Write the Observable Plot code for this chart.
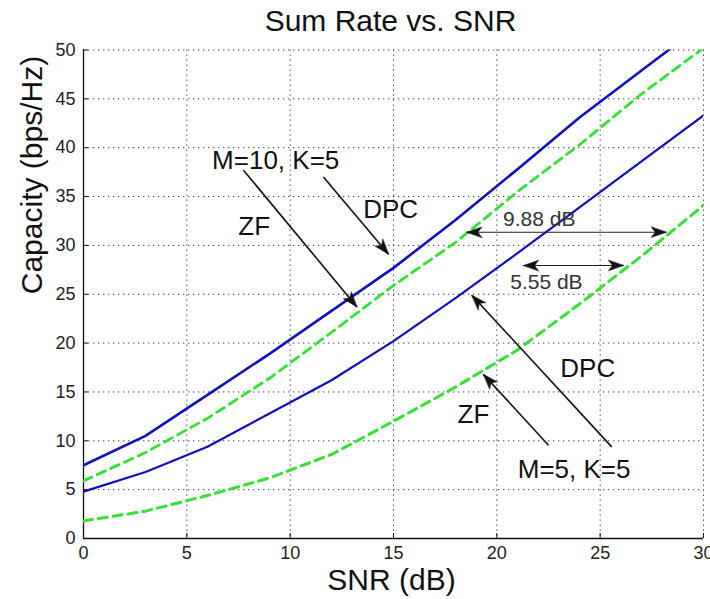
<!DOCTYPE html>
<html><head><meta charset="utf-8">
<script src="https://cdn.jsdelivr.net/npm/d3@7"></script>
<script src="https://cdn.jsdelivr.net/npm/@observablehq/plot@0.6"></script>
<style>
body{margin:0;background:#fff;}
#chart svg{display:block;background:#fff;font-family:"Liberation Sans",Arial,sans-serif;}
</style></head><body><div id="chart"></div>
<script>
// ---- data ----
const snr    = [0, 3, 6, 9, 12, 15, 18, 21, 24, 27, 30];
const dpcM10 = [7.5, 10.5, 14.7, 18.9, 23.3, 27.7, 32.6, 37.8, 43.1, 47.9, 52.7];
const zfM10  = [5.9, 8.8, 12.3, 16.4, 21.1, 25.9, 30.3, 35.5, 40.3, 45.5, 50.2];
const dpcM5  = [4.8, 6.8, 9.4, 12.8, 16.2, 20.2, 24.6, 29.2, 33.9, 38.6, 43.3];
const zfM5   = [1.8, 2.8, 4.4, 6.2, 8.6, 12.0, 15.5, 19.3, 24.0, 28.9, 34.1];
const xTicks = [0, 5, 10, 15, 20, 25, 30];
const yTicks = [0, 5, 10, 15, 20, 25, 30, 35, 40, 45, 50];
const titleText = "Sum Rate vs. SNR";
const xLabel = "SNR (dB)";
const yLabel = "Capacity (bps/Hz)";
// annotation labels (data coordinates)
const labelText = ["M=10, K=5", "ZF", "DPC", "DPC", "ZF", "M=5, K=5"];
const labelX    = [9.3, 8.26, 14.86, 24.4, 18.87, 23.74];
const labelY    = [38.7, 31.9, 33.7, 17.4, 12.66, 7.07];
const dbText = ["9.88 dB", "5.55 dB"];
const dbX    = [22.05, 22.4];
const dbY    = [32.65, 26.2];
// single-headed pointer arrows: start -> tip
const arrowX1 = [7.74, 11.61, 25.56, 22.5];
const arrowY1 = [37.7, 37.0, 9.38, 9.55];
const arrowX2 = [13.23, 14.76, 18.79, 19.35];
const arrowY2 = [23.7, 29.1, 24.9, 16.8];
// double-headed gap arrows
const gapX1 = [18.55, 21.29];
const gapX2 = [28.2, 26.13];
const gapY  = [31.35, 27.94];

// ---- tables ----
const mk = (vals, series) => snr.map((s, i) => ({snr: s, cap: vals[i], series}));
const rowsDpc10 = mk(dpcM10, "DPC M=10"), rowsZf10 = mk(zfM10, "ZF M=10");
const rowsDpc5 = mk(dpcM5, "DPC M=5"), rowsZf5 = mk(zfM5, "ZF M=5");
const labels = labelText.map((t, i) => ({t, x: labelX[i], y: labelY[i]}));
const dbLabels = dbText.map((t, i) => ({t, x: dbX[i], y: dbY[i]}));
const arrows = arrowX1.map((_, i) => ({x1: arrowX1[i], y1: arrowY1[i], x2: arrowX2[i], y2: arrowY2[i]}));
const gaps = gapX1.map((_, i) => ({x1: gapX1[i], x2: gapX2[i], y: gapY[i]}));

const FONT = '"Liberation Sans",Arial,sans-serif';
const base = {
  width: 710, height: 599,
  marginTop: 49.5, marginBottom: 61, marginLeft: 83, marginRight: 7,
  x: {domain: [0, 30]}, y: {domain: [0, 50]},
  style: {fontFamily: FONT, background: "#fff", overflow: "visible"}
};

// probe render to obtain the scales for arrowhead geometry
const probe = Plot.plot({...base, marks: [Plot.frame({stroke: "none"})]});
const psx = probe.scale("x"), psy = probe.scale("y");
const sx = d3.scaleLinear(psx.domain, psx.range);
const sy = d3.scaleLinear(psy.domain, psy.range);

let hid = 0;
function head(x1, y1, x2, y2, L = 15, w = 5.2, notch = 4) {
  const a1 = sx(x1), b1 = sy(y1), a2 = sx(x2), b2 = sy(y2);
  const dx = a2 - a1, dy = b2 - b1, len = Math.hypot(dx, dy);
  const ux = dx / len, uy = dy / len, nx = -uy, ny = ux;
  const id = hid++;
  return [
    [a2, b2],
    [a2 - L * ux + w * nx, b2 - L * uy + w * ny],
    [a2 - (L - notch) * ux, b2 - (L - notch) * uy],
    [a2 - L * ux - w * nx, b2 - L * uy - w * ny]
  ].map(([p, q]) => ({id, x: sx.invert(p), y: sy.invert(q)}));
}
const heads = [];
arrows.forEach(a => heads.push(...head(a.x1, a.y1, a.x2, a.y2)));
gaps.forEach(g => {
  heads.push(...head(g.x1, g.y, g.x2, g.y));
  heads.push(...head(g.x2, g.y, g.x1, g.y));
});

const grid = {stroke: "#222", strokeOpacity: 0.9, strokeWidth: 1, strokeDasharray: "1.3,3.7"};
const blue = "#1010c0", green = "#33e033";

const chart = Plot.plot({
  ...base,
  marks: [
    Plot.gridX(xTicks.filter(d => d > 0), grid),
    Plot.gridY(yTicks.filter(d => d > 0), grid),
    Plot.axisY(yTicks, {tickSize: 0, tickPadding: 8, fontSize: 18, fill: "#222", label: null}),
    Plot.axisY(yTicks, {tickSize: -5, tickFormat: () => "", label: null, stroke: "#111"}),
    Plot.axisX(xTicks, {tickSize: 0, tickPadding: 8, fontSize: 18, fill: "#222", label: null}),
    Plot.axisX(xTicks, {tickSize: -5, tickFormat: () => "", label: null, stroke: "#111"}),
    Plot.ruleX([0], {stroke: "#111", strokeWidth: 1.3}),
    Plot.ruleY([0], {stroke: "#111", strokeWidth: 1.3}),
    Plot.line(rowsDpc10, {x: "snr", y: "cap", stroke: blue, strokeWidth: 2.6, clip: true}),
    Plot.line(rowsZf10, {x: "snr", y: "cap", stroke: green, strokeWidth: 2.8, strokeDasharray: "9,6", clip: true}),
    Plot.line(rowsDpc5, {x: "snr", y: "cap", stroke: blue, strokeWidth: 2.2, clip: true}),
    Plot.line(rowsZf5, {x: "snr", y: "cap", stroke: green, strokeWidth: 3, strokeDasharray: "9,6", clip: true}),
    Plot.link(arrows, {x1: "x1", y1: "y1", x2: "x2", y2: "y2", stroke: "#111", strokeWidth: 1.6}),
    Plot.link(gaps, {x1: "x1", y1: "y", x2: "x2", y2: "y", stroke: "#222", strokeWidth: 1.1}),
    Plot.line(heads, {x: "x", y: "y", z: "id", fill: "#111", stroke: "#111", strokeWidth: 0.6, curve: "linear-closed"}),
    Plot.text(labels, {x: "x", y: "y", text: "t", fontSize: 26, fill: "#111"}),
    Plot.text(dbLabels, {x: "x", y: "y", text: "t", fontSize: 21, fill: "#333"}),
    Plot.text([titleText], {frameAnchor: "top", lineAnchor: "middle", dx: -3, dy: -28.5, fontSize: 30, fill: "#111"}),
    Plot.text([xLabel], {frameAnchor: "bottom", lineAnchor: "middle", dx: -2, dy: 42, fontSize: 30, fill: "#111"}),
    Plot.text([yLabel], {frameAnchor: "left", lineAnchor: "middle", dx: -51, rotate: -90, fontSize: 30, fill: "#111"})
  ]
});
document.getElementById("chart").append(chart);
</script>
</body></html>
